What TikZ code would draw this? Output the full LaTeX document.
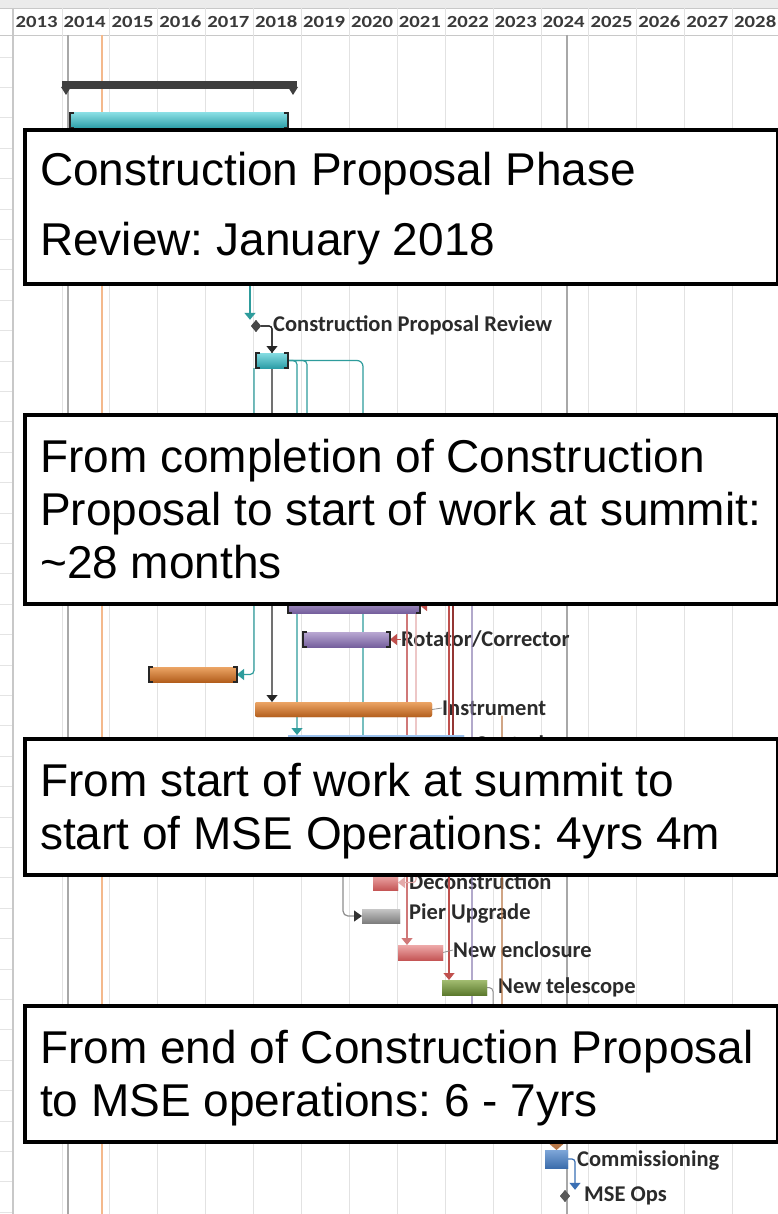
\documentclass[tikz,border=0pt]{standalone}
\usepackage{fontspec}
\setmainfont{Liberation Sans}
\newfontfamily\ganttfont{Carlito}
\newfontfamily\yearfont[FakeStretch=1.22]{Carlito}
\usetikzlibrary{arrows.meta,shapes.geometric}
\frenchspacing

\definecolor{gridc}{HTML}{E2E2E2}
\definecolor{darkgrid}{HTML}{A8A8A8}
\definecolor{orangeln}{HTML}{F4B98C}
\definecolor{topgray}{HTML}{EBEBEB}
\definecolor{hdrln}{HTML}{C8C8C8}
\definecolor{rowln}{HTML}{E4E4E4}
\definecolor{yeartxt}{HTML}{3A3A3A}
\definecolor{lbltxt}{HTML}{2B2B2B}
\definecolor{summc}{HTML}{3F3F3F}
\definecolor{tealA}{HTML}{86DCE2}
\definecolor{tealB}{HTML}{2C9EA7}
\definecolor{tealln}{HTML}{2E9C9C}
\definecolor{purA}{HTML}{B9A8D2}
\definecolor{purB}{HTML}{76609E}
\definecolor{purln}{HTML}{8A7CB0}
\definecolor{orA}{HTML}{ECA566}
\definecolor{orB}{HTML}{B35E1C}
\definecolor{redA}{HTML}{EEAAAA}
\definecolor{redB}{HTML}{C55656}
\definecolor{redln1}{HTML}{D07878}
\definecolor{redln2}{HTML}{E4AAAA}
\definecolor{redln3}{HTML}{C0504D}
\definecolor{redln4}{HTML}{943634}
\definecolor{grnA}{HTML}{A2BC70}
\definecolor{grnB}{HTML}{5C7A2E}
\definecolor{gryA}{HTML}{C6C6C6}
\definecolor{gryB}{HTML}{7E7E7E}
\definecolor{bluA}{HTML}{7EA6D8}
\definecolor{bluB}{HTML}{3C6DAC}
\definecolor{ctlA}{HTML}{9CC2EE}
\definecolor{ctlB}{HTML}{4F8BD0}
\definecolor{brownln}{HTML}{B87645}
\definecolor{grayln}{HTML}{8E8E8E}
\definecolor{blueln}{HTML}{3A6FB4}
\definecolor{milec}{HTML}{474747}

\tikzset{
  gbar/.style={rectangle, draw=none, inner sep=0pt, outer sep=0pt, minimum height=15pt, anchor=north west},
  tealbar/.style={gbar, top color=tealA, bottom color=tealB},
  purbar/.style={gbar, top color=purA, bottom color=purB},
  orbar/.style={gbar, top color=orA, bottom color=orB},
  redbar/.style={gbar, top color=redA, bottom color=redB},
  grnbar/.style={gbar, top color=grnA, bottom color=grnB},
  grybar/.style={gbar, top color=gryA, bottom color=gryB},
  blubar/.style={gbar, top color=bluA, bottom color=bluB},
  ctlbar/.style={gbar, top color=ctlA, bottom color=ctlB},
  mile/.style={diamond, fill=milec, inner sep=0pt, minimum width=10pt, minimum height=12pt},
  glabel/.style={font=\ganttfont\bfseries\fontsize{22.5}{24}\selectfont, text=lbltxt, inner sep=0pt, anchor=west},
  yearlbl/.style={font=\yearfont\bfseries\fontsize{17}{18}\selectfont, text=yeartxt, inner sep=0pt, anchor=west},
  boxtxt/.style={font=\fontsize{46}{53}\selectfont, text=black, inner sep=0pt, anchor=base west},
  callout/.style={rectangle, draw=black, line width=4pt, fill=white, inner sep=0pt, anchor=north west},
  brk/.style={line width=2pt, draw=black!85},
  arr/.style={-{Triangle[width=11pt,length=7pt]}},
  conn/.style={line width=1.2pt},
  gridln/.style={draw=gridc, line width=0.8pt},
}

% square brackets at both ends of a task bar
\newcommand\gbrk[1]{%
  \draw[brk] ([xshift=4pt]#1.north west) -- (#1.north west) -- (#1.south west) -- ([xshift=4pt]#1.south west);
  \draw[brk] ([xshift=-4pt]#1.north east) -- (#1.north east) -- (#1.south east) -- ([xshift=-4pt]#1.south east);}

\begin{document}
\begin{tikzpicture}[x=1pt,y=-1pt]
\useasboundingbox (0,0) rectangle (778,1214);
\fill[white] (0,0) rectangle (778,1214);

% ---- chart frame and timescale ----
\fill[topgray] (0,0) rectangle (778,8);
\draw[hdrln, line width=0.8pt] (0,8) -- (778,8);
\foreach \k in {0,...,38}
  \draw[rowln, line width=0.8pt] (0,{57+30.4*\k}) -- (13,{57+30.4*\k});
\draw[hdrln, line width=0.8pt] (0,35) -- (778,35);
\draw[hdrln, line width=1.5pt] (13,8) -- (13,1214);
\foreach \k in {1,...,15}
  \draw[gridln] ({14+47.9*\k},8) -- ({14+47.9*\k},1214);
\foreach \k in {0,...,15}{
  \pgfmathtruncatemacro\yr{2013+\k}
  \node[yearlbl] (yr\k) at ({14+47.9*\k+1.5},22) {\yr};
}
\draw[darkgrid, line width=1.6pt] (68,35) -- (68,1214);
\draw[darkgrid, line width=1.6pt] (567,35) -- (567,1214);
\draw[orangeln, line width=1.5pt] (102,35) -- (102,1214);

% ---- task bars and milestones (named, used as link ends) ----
\node[gbar, fill=summc, minimum height=8pt, minimum width=235pt] (summ) at (62,81) {};
\node[tealbar, minimum width=218pt] (cpphase) at (70,113) {};
\node[mile] (cpr) at (256,326) {};
\node[tealbar, minimum width=32pt] (cpsm) at (256,353) {};
\node[purbar, minimum width=132pt] (m1) at (288,598) {};
\node[purbar, minimum width=87pt] (rot) at (303,632) {};
\node[orbar, minimum width=88pt] (osm) at (149,667) {};
\node[orbar, minimum width=177pt, rounded corners=2pt] (instr) at (255,702) {};
\node[ctlbar, minimum width=176pt] (ctrl) at (288,735) {};
\node[redbar, minimum width=25pt] (decon) at (373,875) {};
\node[grybar, minimum width=38pt, minimum height=14pt] (pier) at (362,909) {};
\node[redbar, minimum width=45pt] (encl) at (398,945) {};
\node[grnbar, minimum width=45pt] (tele) at (442,980) {};
\node[blubar, minimum width=23pt, minimum height=18pt] (comm) at (545,1150) {};
\node[mile, fill=gray!70!black] (mse) at (565,1196) {};

% ---- labels ----
\node[glabel] (cprl) at (273,325) {Construction Proposal Review};
\node[glabel] (rotl) at (401,639) {Rotator/Corrector};
\node[glabel] (instrl) at (442,708) {Instrument};
\node[glabel] (ctrll) at (475,744) {Controls};
\node[glabel] (deconl) at (409,882) {Deconstruction};
\node[glabel] (pierl) at (409,914) {Pier Upgrade};
\node[glabel] (encll) at (453,950) {New enclosure};
\node[glabel] (telel) at (498,987) {New telescope};
\node[glabel] (comml) at (577,1160) {Commissioning};
\node[glabel] (msel) at (584,1196) {MSE Ops};

% ---- dependency links ----
\coordinate (cpdrop) at (250,130);
\draw[tealln, line width=2pt, arr] (cpdrop) -- (cpdrop |- cpr.north);
\draw[black!85, conn, rounded corners=3pt, arr] (cpr.east) -| (instr.north -| cpsm.north);
\draw[black!85, conn, rounded corners=3pt, arr] (cpr.east) -| (cpsm.north);
\draw[tealln, conn, rounded corners=4pt, arr] ([xshift=-2pt]cpsm.south west) |- (osm.east);
\draw[tealln, conn, rounded corners=4pt, arr] (cpsm.east) -| ([xshift=9pt]ctrl.north west);
\draw[tealln, conn, rounded corners=4pt, arr] (cpsm.east) -| ([xshift=19pt]m1.north west);
\coordinate (tealend) at (363,800);
\draw[tealln, conn, rounded corners=6pt] (cpsm.east) -| (tealend);

\coordinate (r1top) at (407,590);
\draw[redln1, conn, arr] (r1top) -- (r1top |- encl.north);
\coordinate (r2top) at (416,590);
\draw[redln2, conn, rounded corners=3pt, arr] (r2top) |- (decon.east);
\coordinate (r3top) at (449,590);
\draw[redln3, conn, arr] (r3top) -- (r3top |- tele.north);
\coordinate (r4top) at (453,590);
\coordinate (r4end) at (453,800);
\draw[redln4, conn] (r4top) -- (r4end);
\draw[redln3, conn, arr] ([xshift=11pt]m1.east) -- (m1.east);
\draw[redln3, conn, arr] ([xshift=11pt]rot.east) -- (rot.east);

\coordinate (purtop) at (440,597);
\coordinate (purend) at (472,1060);
\draw[purln, conn, rounded corners=5pt] (purtop) -| (purend);

\draw[grayln, line width=0.8pt] (instr.east) -- (instrl.west);
\coordinate (brnturn) at (502,1125);
\draw[brownln, conn, rounded corners=5pt, -{Triangle[width=16pt,length=7pt]}] (instrl.south -| brnturn) -- (brnturn) -| (comm.north);

\coordinate (pgtop) at (343,860);
\draw[grayln, conn, rounded corners=5pt, -{Triangle[width=11pt,length=8pt,color=black!80]}] (pgtop) |- (pier.west);
\draw[grayln, line width=0.8pt] (encl.east) -- (encll.west);
\coordinate (telend) at (493,1060);
\draw[grayln, line width=1pt, rounded corners=4pt] (tele.east) -| (telend);
\draw[blueln, conn, rounded corners=3pt, arr] (comm.east) -| ([xshift=10pt]mse.north);

% bars redrawn above the links
\node[gbar, fill=summc, minimum height=8pt, minimum width=235pt] at (62,81) {};
\fill[summc] ([xshift=-1pt,yshift=2pt]summ.south west) -- ([xshift=9pt,yshift=2pt]summ.south west) -- ([xshift=4pt,yshift=-6pt]summ.south west) -- cycle;
\fill[summc] ([xshift=1pt,yshift=2pt]summ.south east) -- ([xshift=-9pt,yshift=2pt]summ.south east) -- ([xshift=-4pt,yshift=-6pt]summ.south east) -- cycle;
\node[tealbar, minimum width=218pt] at (70,113) {};
\gbrk{cpphase}
\node[mile] at (256,326) {};
\node[tealbar, minimum width=32pt] at (256,353) {};
\gbrk{cpsm}
\node[purbar, minimum width=132pt] at (288,598) {};
\gbrk{m1}
\node[purbar, minimum width=87pt] at (303,632) {};
\gbrk{rot}
\node[orbar, minimum width=88pt] at (149,667) {};
\gbrk{osm}
\node[orbar, minimum width=177pt, rounded corners=2pt] at (255,702) {};
\node[ctlbar, minimum width=176pt] at (288,735) {};
\node[redbar, minimum width=25pt] at (373,875) {};
\node[grybar, minimum width=38pt, minimum height=14pt] at (362,909) {};
\node[redbar, minimum width=45pt] at (398,945) {};
\node[grnbar, minimum width=45pt] at (442,980) {};
\node[blubar, minimum width=23pt, minimum height=18pt] at (545,1150) {};
\node[mile, fill=gray!70!black] at (565,1196) {};

% ---- call-out boxes ----
\node[callout, minimum width=753pt, minimum height=154pt] (box1) at (23,128) {};
\node[boxtxt] (b1a) at (40,186) {Construction Proposal Phase};
\node[boxtxt] (b1b) at (40,256) {Review: January 2018};

\node[callout, minimum width=753pt, minimum height=189pt] (box2) at (23,413) {};
\node[boxtxt] (b2a) at (40,472) {From completion of Construction};
\node[boxtxt] (b2b) at (40,525) {Proposal to start of work at summit:};
\node[boxtxt] (b2c) at (40,578) {\textasciitilde 28 months};

\node[callout, minimum width=753pt, minimum height=136pt] (box3) at (23,737) {};
\node[boxtxt] (b3a) at (40,796) {From start of work at summit to};
\node[boxtxt] (b3b) at (40,849) {start of MSE Operations: 4yrs 4m};

\node[callout, minimum width=753pt, minimum height=136pt] (box4) at (23,1004) {};
\node[boxtxt] (b4a) at (40,1063) {From end of Construction Proposal};
\node[boxtxt] (b4b) at (40,1116) {to MSE operations: 6 - 7yrs};
\end{tikzpicture}
\end{document}
